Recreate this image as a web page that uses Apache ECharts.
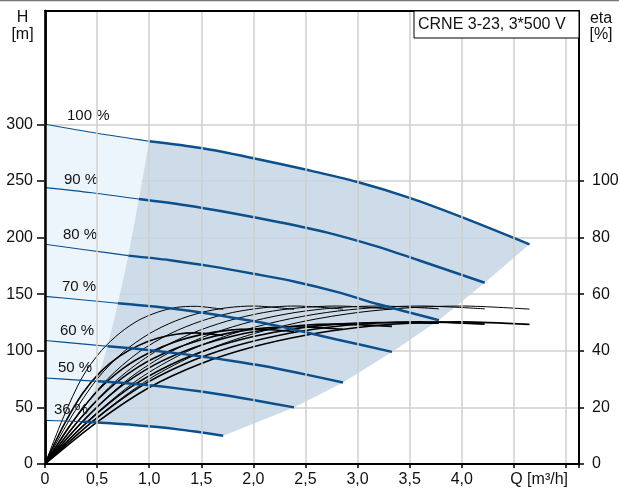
<!DOCTYPE html>
<html><head><meta charset="utf-8">
<script src="https://cdn.jsdelivr.net/npm/echarts@6.0.0/dist/echarts.min.js"></script>
<style>html,body{margin:0;padding:0;background:#fff}#c{width:619px;height:489px}</style>
</head><body><div id="c"></div>
<script>
// ---- data ----
const speedLabels = ['100 %', '90 %', '80 %', '70 %', '60 %', '50 %', '36 %'];
// flow Q [m3/h] per speed curve (index 2 = minimum-flow point, last = max-flow end)
const q100 = [0, 0.5, 1.0, 1.5, 2.0, 2.5, 3.0, 3.5, 4.0, 4.65];
const q90  = [0, 0.45, 0.9, 1.35, 1.8, 2.25, 2.7, 3.15, 3.6, 4.22];
const q80  = [0, 0.4, 0.8, 1.2, 1.6, 2.0, 2.4, 2.8, 3.2, 3.78];
const q70  = [0, 0.35, 0.7, 1.05, 1.4, 1.75, 2.1, 2.45, 2.8, 3.33];
const q60  = [0, 0.3, 0.6, 0.9, 1.2, 1.5, 1.8, 2.1, 2.4, 2.86];
const q50  = [0, 0.25, 0.5, 0.75, 1.0, 1.25, 1.5, 1.75, 2.0, 2.39];
const q36  = [0, 0.18, 0.36, 0.54, 0.72, 0.9, 1.08, 1.26, 1.44, 1.71];
// head H [m]
const h100 = [300, 292, 285, 279, 270, 260, 249, 235, 218, 194];
const h90  = [244, 239.5, 234, 228.5, 221.5, 213.5, 204.5, 193, 179.5, 160];
const h80  = [194, 189, 184, 180, 174.5, 168, 161, 152, 141, 127];
const h70  = [148, 145, 142, 139, 135, 130, 124.5, 117.5, 110, 99];
const h60  = [109, 106.5, 104, 101.5, 98.5, 95, 91, 86.5, 81, 72];
const h50  = [76, 74.5, 73, 71.5, 69.5, 67, 64, 60.5, 56.5, 50];
const h36  = [38.5, 38, 37.3, 36.5, 35.4, 34.1, 32.6, 30.8, 28.6, 25];
// pump efficiency eta [%] (upper thin group)
const ep100 = [0, 16.5, 30, 39.5, 46, 50.5, 53.5, 55.2, 55.8, 54.7];
const ep90  = [0, 16.5, 30, 39.5, 46, 50.5, 53.5, 55.2, 55.8, 54.8];
const ep80  = [0, 16.5, 30, 39.5, 46, 50.5, 53.5, 55.2, 55.8, 54.8];
const ep70  = [0, 16.5, 30, 39.5, 46, 50.5, 53.5, 55.2, 55.8, 54.7];
const ep60  = [0, 16.5, 30, 39.5, 46, 50.5, 53.5, 55.2, 55.8, 54.7];
const ep50  = [0, 16.5, 30, 39.5, 46, 50.5, 53.5, 55.2, 55.8, 54.6];
const ep36  = [0, 16.8, 30.8, 40, 46.3, 50.8, 53.6, 55.3, 55.7, 54.6];
// total efficiency eta [%] (lower thick group)
const et100 = [0, 14.8, 27, 35.5, 41.4, 45.5, 48.2, 49.7, 50.2, 49.3];
const et90  = [0, 14.8, 27, 35.5, 41.4, 45.5, 48.2, 49.7, 50.2, 49.4];
const et80  = [0, 14.6, 26.6, 35, 40.9, 45, 47.8, 49.4, 50, 49.7];
const et70  = [0, 14.6, 26.6, 35, 40.7, 44.7, 47.3, 48.9, 49.4, 48.6];
const et60  = [0, 14.4, 26.1, 34.4, 40, 43.9, 46.5, 48, 48.5, 47.6];
const et50  = [0, 14.1, 25.7, 33.8, 39.3, 43.2, 45.7, 47.2, 47.7, 46.8];
const et36  = [0, 13.7, 24.9, 32.8, 38.2, 41.9, 44.4, 45.8, 46.3, 45.4];
// tick labels
const xTicks = [0, 0.5, 1.0, 1.5, 2.0, 2.5, 3.0, 3.5, 4.0];
const hTicks = [0, 50, 100, 150, 200, 250, 300];
const etaTicks = [0, 20, 40, 60, 80, 100];
const title = 'CRNE 3-23, 3*500 V';
const xName = 'Q [m³/h]';

// ---- build ----
const Qs = [q100, q90, q80, q70, q60, q50, q36];
const Hs = [h100, h90, h80, h70, h60, h50, h36];
const EPs = [ep100, ep90, ep80, ep70, ep60, ep50, ep36];
const ETs = [et100, et90, et80, et70, et60, et50, et36];
const MIN = 2, LAST = q100.length - 1;
const pts = (q, v, a, b) => { const r = []; for (let i = a; i <= b; i++) r.push([q[i], v[i]]); return r; };

const FONT = 'Arial, "Liberation Sans", sans-serif';
const BLUE = '#0b4f8c';

// shaded operating range
const grayPoly = [];
for (let s = 0; s < 7; s++) grayPoly.push([Qs[s][MIN], Hs[s][MIN]]);
for (let i = MIN + 1; i <= LAST; i++) grayPoly.push([q36[i], h36[i]]);
for (let s = 5; s >= 0; s--) grayPoly.push([Qs[s][LAST], Hs[s][LAST]]);
for (let i = LAST - 1; i > MIN; i--) grayPoly.push([q100[i], h100[i]]);

const lightPoly = [];
for (let i = 0; i <= MIN; i++) lightPoly.push([q100[i], h100[i]]);
for (let s = 1; s < 7; s++) lightPoly.push([Qs[s][MIN], Hs[s][MIN]]);
for (let i = MIN - 1; i >= 0; i--) lightPoly.push([q36[i], h36[i]]);

function poly(points, color, z) {
  return {
    type: 'custom', xAxisIndex: 0, yAxisIndex: 0, z: z, silent: true, clip: true,
    data: [0],
    renderItem: function (params, api) {
      return { type: 'polygon', shape: { points: points.map(p => api.coord(p)) }, style: { fill: color } };
    }
  };
}

const series = [
  poly(lightPoly, '#edf5fc', 1),
  poly(grayPoly, 'rgba(198,213,228,0.86)', 1)
];

for (let s = 0; s < 7; s++) {
  series.push({ type: 'line', yAxisIndex: 1, data: pts(Qs[s], ETs[s], 0, LAST), showSymbol: false, symbol: 'none',
    smooth: 0.3, lineStyle: { color: '#000', width: 1.6 }, z: 3, silent: true });
  series.push({ type: 'line', yAxisIndex: 1, data: pts(Qs[s], EPs[s], 0, LAST), showSymbol: false, symbol: 'none',
    smooth: 0.3, lineStyle: { color: '#000', width: 1 }, z: 3, silent: true });
}
for (let s = 0; s < 7; s++) {
  series.push({ type: 'line', data: pts(Qs[s], Hs[s], 0, MIN), showSymbol: false, symbol: 'none',
    smooth: 0.3, lineStyle: { color: BLUE, width: 1.1 }, z: 4, silent: true });
  series.push({ type: 'line', data: pts(Qs[s], Hs[s], MIN, LAST), showSymbol: false, symbol: 'none',
    smooth: 0.3, lineStyle: { color: BLUE, width: 2.5 }, z: 4, silent: true });
}
const labelOffsets = [[22, -8], [19, -8], [18, -9], [17, -10], [15, -10], [13, -10], [9, -11]];
series.push({
  type: 'scatter', symbolSize: 0, z: 6, clip: false, silent: true,
  itemStyle: { opacity: 1 },
  data: Hs.map((h, s) => ({
    value: [Qs[s][0], h[0]],
    label: { show: true, formatter: speedLabels[s], position: 'right', distance: 0, offset: labelOffsets[s],
      fontSize: 15, fontFamily: FONT, color: '#111' }
  }))
});

const chart = echarts.init(document.getElementById('c'), null, { renderer: 'canvas' });
const gridColor = '#cfcfcf';
const hidden = { axisTick: { show: false }, axisLabel: { show: false }, splitLine: { show: false } };
chart.setOption({
  animation: false,
  backgroundColor: '#fff',
  grid: { left: 45, right: 40, top: 11, bottom: 25, containLabel: false, outerBoundsMode: 'none' },
  xAxis: [{
    type: 'value', min: 0, max: 5.125, interval: 0.5, z: 10,
    axisLine: { onZero: false, lineStyle: { color: '#000', width: 2 } },
    axisTick: { show: true, length: 4, lineStyle: { color: '#000', width: 1.5 } },
    axisLabel: { customValues: xTicks, fontSize: 16, fontFamily: FONT, color: '#111', margin: 8,
      formatter: v => (v === 0 ? '0' : v.toFixed(1).replace('.', ',')) },
    splitLine: { show: true, lineStyle: { color: gridColor, width: 1.5 } },
    name: xName, nameLocation: 'end', nameGap: -11,
    nameTextStyle: { fontSize: 16, fontFamily: FONT, color: '#111', align: 'right', verticalAlign: 'top', padding: [8, 0, 0, 0] }
  }, Object.assign({
    type: 'value', position: 'top', min: 0, max: 5.125, z: 10,
    axisLine: { show: true, onZero: false, lineStyle: { color: '#000', width: 2 } }
  }, hidden)],
  yAxis: [{
    type: 'value', min: 0, max: 400, interval: 50,
    axisLine: { show: true, onZero: false, lineStyle: { color: '#000', width: 2.5 } },
    axisTick: { show: true, customValues: hTicks, length: 8, lineStyle: { color: '#000', width: 1.5 } },
    axisLabel: { customValues: hTicks, fontSize: 16, fontFamily: FONT, color: '#111', margin: 12 },
    splitLine: { show: true, lineStyle: { color: gridColor, width: 1.5 } }
  }, {
    type: 'value', position: 'right', min: 0, max: 160, interval: 20, z: 10,
    axisLine: { show: true, onZero: false, lineStyle: { color: '#000', width: 2 } },
    axisTick: { show: true, customValues: etaTicks, length: 5, lineStyle: { color: '#000', width: 1.5 } },
    axisLabel: { customValues: etaTicks, fontSize: 16, fontFamily: FONT, color: '#111', margin: 13 },
    splitLine: { show: false }
  }, Object.assign({
    type: 'value', position: 'left', min: 0, max: 400, z: 10,
    axisLine: { show: true, onZero: false, lineStyle: { color: '#000', width: 2.5 } }
  }, hidden)],
  graphic: [
    { type: 'line', shape: { x1: 0, y1: 0.5, x2: 619, y2: 0.5 }, style: { stroke: '#777', lineWidth: 1.5 }, z: 100 },
    { type: 'rect', shape: { x: 414, y: 11, width: 165, height: 27 }, style: { fill: '#fff', stroke: '#000', lineWidth: 1 }, z: 100 },
    { type: 'text', x: 418, y: 25, style: { text: title, font: '16px ' + FONT, fill: '#111', verticalAlign: 'middle' }, z: 101 },
    { type: 'text', x: 22.5, y: 18, style: { text: 'H', font: '16px ' + FONT, fill: '#111', align: 'center', verticalAlign: 'middle' }, z: 101 },
    { type: 'text', x: 22.5, y: 35, style: { text: '[m]', font: '16px ' + FONT, fill: '#111', align: 'center', verticalAlign: 'middle' }, z: 101 },
    { type: 'text', x: 601, y: 19, style: { text: 'eta', font: '16px ' + FONT, fill: '#111', align: 'center', verticalAlign: 'middle' }, z: 101 },
    { type: 'text', x: 601, y: 35, style: { text: '[%]', font: '16px ' + FONT, fill: '#111', align: 'center', verticalAlign: 'middle' }, z: 101 }
  ],
  series: series
});
</script></body></html>
